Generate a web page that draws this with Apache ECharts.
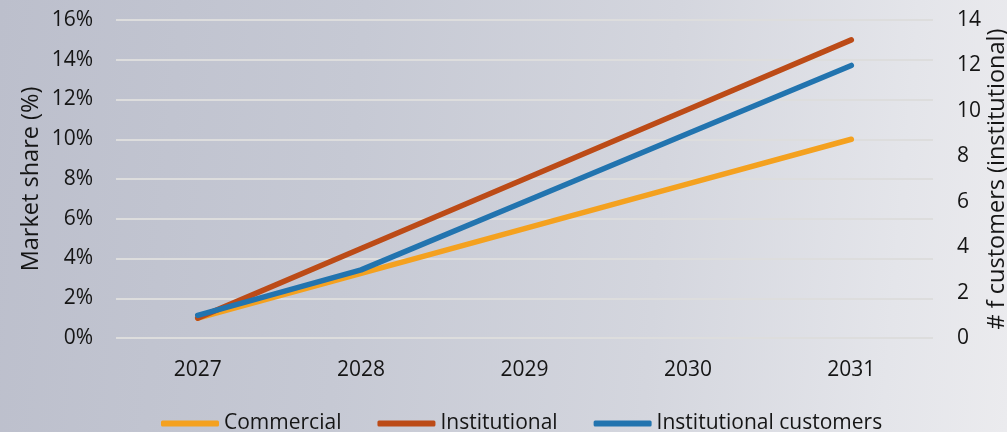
<!DOCTYPE html>
<html>
<head>
<meta charset="utf-8">
<script src="https://cdn.jsdelivr.net/npm/echarts@6/dist/echarts.min.js"></script>
<style>
  html, body { margin: 0; padding: 0; }
  body {
    width: 1007px; height: 432px; overflow: hidden;
    background: linear-gradient(95deg, #bcbfcc 0%, #c6c9d4 35%, #d4d6de 65%, #e4e5ea 88%, #ebebee 100%);
  }
  #chart { width: 1007px; height: 432px; }
</style>
</head>
<body>
<div id="chart"></div>
<script>
// Forecast years
const years = ['2027', '2028', '2029', '2030', '2031'];
// Market share, percent (left axis)
const commercialShare = [1, 3.25, 5.5, 7.75, 10];
const institutionalShare = [1, 4.5, 8, 11.5, 15];
// Number of institutional customers (right axis)
const institutionalCustomers = [1, 3, 6, 9, 12];

const seriesNames = ['Commercial', 'Institutional', 'Institutional customers'];
const seriesColors = ['#f4a11f', '#bc4b17', '#2274af'];

const FONT = '"Open Sans", "Noto Sans", sans-serif';
const TEXT = '#151515';

const chart = echarts.init(document.getElementById('chart'), null, { renderer: 'canvas' });

const lineSeries = (name, data, color, axis) => ({
  name: name,
  type: 'line',
  yAxisIndex: axis,
  data: data,
  symbol: 'none',
  smooth: false,
  lineStyle: { color: color, width: 5.5, cap: 'round', join: 'round' },
  itemStyle: { color: color },
  emphasis: { disabled: true }
});

chart.setOption({
  backgroundColor: 'transparent',
  animation: false,
  textStyle: { fontFamily: FONT, color: TEXT },
  grid: { left: 116, right: 74, top: 20, bottom: 94, containLabel: false, outerBoundsMode: 'none' },
  legend: {
    left: 161,
    top: 413,
    padding: 0,
    itemWidth: 58,
    itemHeight: 6,
    itemGap: 36,
    icon: 'roundRect',
    textStyle: { fontFamily: FONT, fontSize: 21, color: TEXT },
    data: seriesNames
  },
  xAxis: {
    type: 'category',
    data: years,
    boundaryGap: true,
    axisLine: { show: false },
    axisTick: { show: false },
    axisLabel: { fontFamily: FONT, fontSize: 21, color: TEXT, margin: 22 }
  },
  yAxis: [
    {
      type: 'value',
      min: 0, max: 16, interval: 2,
      name: 'Market share (%)',
      nameLocation: 'middle',
      nameRotate: 90,
      nameGap: 73,
      nameMoveOverlap: false,
      nameTextStyle: { fontFamily: FONT, fontSize: 23.5, color: TEXT },
      axisLine: { show: false },
      axisTick: { show: false },
      axisLabel: { formatter: '{value}%', fontFamily: FONT, fontSize: 21, color: TEXT, margin: 23 },
      splitLine: { show: true, lineStyle: { color: '#dddddd', width: 2 } }
    },
    {
      type: 'value',
      min: 0, max: 14, interval: 2,
      position: 'right',
      name: '# f customers (institutional)',
      nameLocation: 'middle',
      nameRotate: 90,
      nameGap: 52,
      nameMoveOverlap: false,
      nameTextStyle: { fontFamily: FONT, fontSize: 23.5, color: TEXT },
      axisLine: { show: false },
      axisTick: { show: false },
      axisLabel: { fontFamily: FONT, fontSize: 21, color: TEXT, margin: 24 },
      splitLine: { show: false }
    }
  ],
  series: [
    lineSeries(seriesNames[0], commercialShare, seriesColors[0], 0),
    lineSeries(seriesNames[1], institutionalShare, seriesColors[1], 0),
    lineSeries(seriesNames[2], institutionalCustomers, seriesColors[2], 1)
  ]
});
</script>
</body>
</html>
